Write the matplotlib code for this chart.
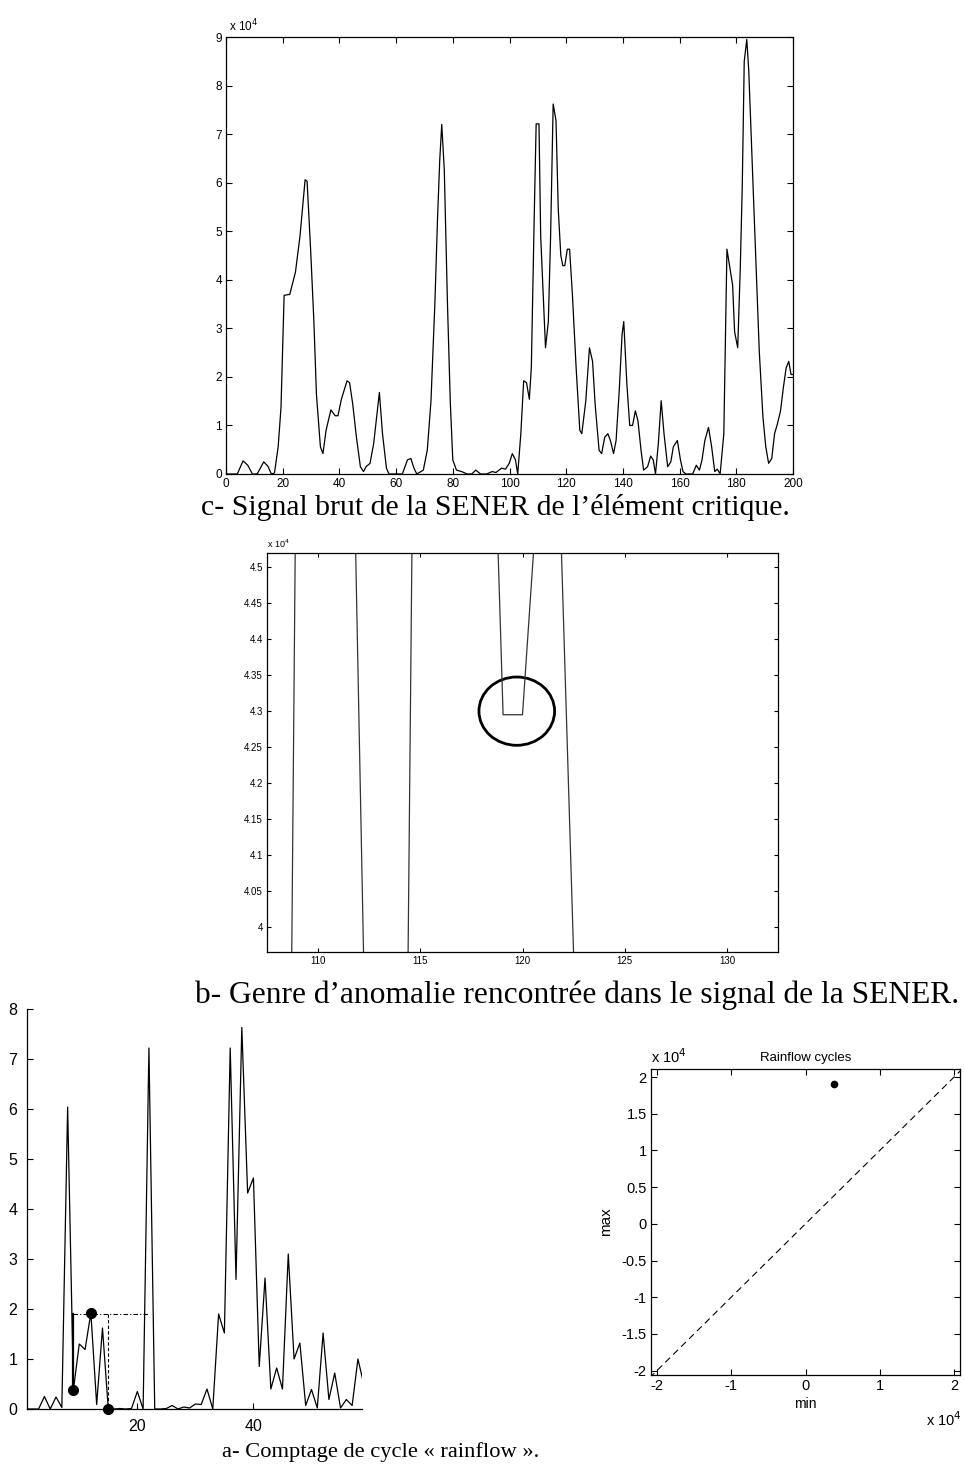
import matplotlib
matplotlib.use('Agg')
import matplotlib.pyplot as plt
from matplotlib.patches import Ellipse

# ---------------- data ----------------
# c- raw SENER signal (values in units of 1e4)
x_c = [0, 4, 6, 7.7, 9.3, 11, 13.3, 14.8, 16, 17.1,
       18.4, 19.4, 20.5, 22.5, 24.5, 26.1, 27.9, 28.6, 29.9, 31,
       31.9, 33.3, 34.2, 35.3, 37, 38.5, 39.5, 40.7, 42.7, 43.6,
       44.7, 46, 47.4, 48.5, 49.4, 50.8, 52.1, 53.5, 54.1, 55.2,
       56.6, 57.5, 62.2, 64, 65.2, 66.3, 67.3, 69.6, 71, 72.3,
       73.7, 74.6, 75.4, 76.1, 77, 78.1, 79.1, 80, 81.3, 83.1,
       85.1, 86.7, 88.1, 89.8, 91.9, 93.9, 95.2, 97.2, 98.6, 99.9,
       101, 102.1, 102.9, 104, 105, 106, 107, 107.7, 108.7, 109.4,
       110.4, 111, 112, 112.7, 113.7, 114.5, 115.4, 116.4, 117.2, 118.1,
       118.8, 119.5, 120.4, 121.2, 122.2, 123.5, 124.8, 125.5, 126.9, 128.2,
       129.3, 130.2, 131.6, 132.5, 133.6, 134.7, 135.6, 136.7, 137.6, 138.7,
       139.7, 140.3, 141.4, 142.4, 143.4, 144.4, 145.3, 146.4, 147.3, 148.7,
       149.8, 150.7, 151.5, 152.5, 153.5, 154.5, 155.8, 156.9, 157.8, 159.2,
       160.3, 161.2, 162.2, 164.6, 165.9, 167, 167.9, 168.9, 170.2, 171.3,
       172.4, 173.3, 174.3, 175.6, 176.7, 177.8, 178.7, 179.4, 180.5, 181.4,
       182.1, 182.8, 183.7, 184.4, 185.5, 186.8, 188.1, 189.4, 190.4, 191.4,
       192.5, 193.5, 194.5, 195.6, 196.6, 197.6, 198.5, 199.3, 200]
y_c = [0, 0, 0.27, 0.18, 0, 0, 0.25, 0.16, 0, 0.02,
       0.56, 1.37, 3.68, 3.7, 4.16, 4.9, 6.06, 6.03, 4.56, 3.14,
       1.64, 0.56, 0.42, 0.9, 1.32, 1.2, 1.2, 1.54, 1.92, 1.88,
       1.44, 0.76, 0.15, 0.05, 0.15, 0.22, 0.63, 1.37, 1.68, 0.83,
       0.12, 0, 0, 0.29, 0.32, 0.12, 0, 0.08, 0.49, 1.5,
       3.55, 5.24, 6.47, 7.2, 6.26, 3.55, 1.5, 0.29, 0.08, 0.05,
       0, 0, 0.08, 0, 0, 0.05, 0.03, 0.12, 0.1, 0.22,
       0.42, 0.29, 0, 0.83, 1.92, 1.88, 1.54, 2.19, 5.24, 7.21,
       7.21, 4.9, 3.55, 2.6, 3.14, 4.9, 7.62, 7.28, 5.45, 4.5,
       4.29, 4.29, 4.63, 4.63, 3.68, 2.19, 0.9, 0.83, 1.5, 2.6,
       2.32, 1.44, 0.49, 0.42, 0.76, 0.83, 0.69, 0.42, 0.69, 1.71,
       2.87, 3.14, 1.85, 1.0, 1.0, 1.3, 1.1, 0.49, 0.08, 0.15,
       0.37, 0.29, 0, 0.63, 1.51, 0.83, 0.15, 0.25, 0.56, 0.69,
       0.29, 0.05, 0, 0, 0.18, 0.08, 0.29, 0.69, 0.96, 0.56,
       0.05, 0.1, 0, 0.83, 4.63, 4.23, 3.89, 2.93, 2.6, 4.23,
       5.92, 8.5, 8.95, 8.3, 6.6, 4.57, 2.53, 1.17, 0.56, 0.22,
       0.32, 0.83, 1.03, 1.3, 1.78, 2.19, 2.32, 2.05, 2.05]
xticks_c = [0, 20, 40, 60, 80, 100, 120, 140, 160, 180, 200]
yticks_c = [0, 1, 2, 3, 4, 5, 6, 7, 8, 9]

# b- zoom on the anomaly (units of 1e4)
x_b = [108.5, 109.78, 113.69, 115.59, 119.05, 120.0, 120.8, 121.79, 122.8]
y_b = [3.265, 7.5, 1.84, 7.5, 4.295, 4.295, 4.63, 4.63, 3.68]
circle_b = (119.72, 4.300)          # centre of the highlighted anomaly
circle_b_size = (3.7, 0.095)        # width, height in data units
xticks_b = [110, 115, 120, 125, 130]
yticks_b = [4.0, 4.05, 4.1, 4.15, 4.2, 4.25, 4.3, 4.35, 4.4, 4.45, 4.5]
ylabels_b = ['4', '4.05', '4.1', '4.15', '4.2', '4.25', '4.3', '4.35', '4.4', '4.45', '4.5']

# a- rainflow counting on turning points (units of 1e4)
x_a = list(range(1, 60))
y_a = [0, 0, 0, 0.25, 0, 0.24, 0.03, 6.04, 0.39, 1.3,
       1.19, 1.92, 0.09, 1.62, 0, 0, 0.01, 0, 0.01, 0.35,
       0, 7.22, 0, 0, 0.01, 0.07, 0, 0.04, 0.02, 0.1,
       0.09, 0.4, 0, 1.9, 1.52, 7.22, 2.59, 7.63, 4.32, 4.62,
       0.85, 2.62, 0.4, 0.82, 0.4, 3.1, 1.0, 1.32, 0.07, 0.39,
       0.02, 1.52, 0.19, 0.72, 0.02, 0.19, 0.07, 1.0, 0.5]
cycle_x = [9, 12, 15]
cycle_y = [0.39, 1.92, 0.0]
cycle_level = 1.9
cycle_span = [9, 22]
xticks_a = [20, 40]
yticks_a = [0, 1, 2, 3, 4, 5, 6, 7, 8]

# rainflow cycles (min, max) in units of 1e4
rf_min = [0.38]
rf_max = [1.9]
rf_diag = [-2.1, 2.1]
ticks_rf = [-2, -1.5, -1, -0.5, 0, 0.5, 1, 1.5, 2]
ticklabels_rf = ['-2', '-1.5', '-1', '-0.5', '0', '0.5', '1', '1.5', '2']
xticks_rf = [-2, -1, 0, 1, 2]
xticklabels_rf = ['-2', '-1', '0', '1', '2']

# ---------------- figure ----------------
W, H = 965, 1471
fig = plt.figure(figsize=(W / 100, H / 100), dpi=100)
SANS = ['Liberation Sans', 'DejaVu Sans']
SERIF = ['Liberation Serif', 'DejaVu Serif']
plt.rcParams['font.family'] = SANS
plt.rcParams['axes.unicode_minus'] = False


def add_ax(l, t, r, b):
    return fig.add_axes([l / W, 1 - b / H, (r - l) / W, (b - t) / H])


def matlab_style(ax, size, top_right=True):
    ax.tick_params(direction='in', length=4, width=0.8, labelsize=size,
                   top=top_right, right=top_right, pad=3)
    for s in ax.spines.values():
        s.set_linewidth(0.9)


# ---- panel c ----
ax_c = add_ax(226, 37, 793, 474)
ax_c.plot(x_c, y_c, color='black', lw=0.9)
ax_c.set_xlim(0, 200)
ax_c.set_ylim(0, 9)
ax_c.set_xticks(xticks_c)
ax_c.set_yticks(yticks_c)
matlab_style(ax_c, 8.5)
ax_c.text(0.005, 1.006, r'x 10$^4$', transform=ax_c.transAxes, fontsize=8.5,
          ha='left', va='bottom')
fig.text(201 / W, 1 - 508 / H, 'c- Signal brut de la SENER de l’élément critique.',
         family=SERIF, fontsize=21.4, ha='left', va='center')

# ---- panel b ----
ax_b = add_ax(267, 553, 778, 952)
ax_b.plot(x_b, y_b, color='#333333', lw=0.9)
ax_b.add_patch(Ellipse(circle_b, circle_b_size[0], circle_b_size[1],
                       fill=False, edgecolor='black', lw=2.0))
ax_b.set_xlim(107.5, 132.5)
ax_b.set_ylim(3.965, 4.52)
ax_b.set_xticks(xticks_b)
ax_b.set_yticks(yticks_b)
ax_b.set_yticklabels(ylabels_b)
matlab_style(ax_b, 7)
ax_b.tick_params(length=3)
ax_b.text(0.0, 1.008, r'x 10$^4$', transform=ax_b.transAxes, fontsize=6.5,
          ha='left', va='bottom')
fig.text(195 / W, 1 - 995 / H, 'b- Genre d’anomalie rencontrée dans le signal de la SENER.',
         family=SERIF, fontsize=22.7, ha='left', va='center')

# ---- panel a (left) ----
ax_a = add_ax(27, 1009, 362, 1409)
ax_a.plot(x_a, y_a, color='black', lw=0.9)
ax_a.plot([cycle_x[0], cycle_x[0]], [cycle_y[0], cycle_level], color='black', lw=1.6)
ax_a.plot(cycle_span, [cycle_level, cycle_level], color='black', lw=0.8, ls=(0, (4, 2, 1, 2)))
ax_a.plot([cycle_x[2], cycle_x[2]], [cycle_level, cycle_y[2]], color='black', lw=0.8, ls=(0, (3, 2)))
ax_a.plot(cycle_x, cycle_y, 'o', color='black', ms=7, clip_on=False)
ax_a.set_xlim(1, 58.7)
ax_a.set_ylim(0, 8)
ax_a.set_xticks(xticks_a)
ax_a.set_yticks(yticks_a)
ax_a.spines['top'].set_visible(False)
ax_a.spines['right'].set_visible(False)
matlab_style(ax_a, 11.5, top_right=False)
ax_a.tick_params(pad=7)

# ---- rainflow cycles (right) ----
ax_r = add_ax(651, 1069, 960, 1375)
ax_r.plot(rf_diag, rf_diag, color='black', lw=0.8, ls=(0, (6, 4)))
ax_r.plot(rf_min, rf_max, 'o', color='black', ms=4.5)
ax_r.set_xlim(-2.08, 2.08)
ax_r.set_ylim(-2.06, 2.11)
ax_r.set_xticks(xticks_rf)
ax_r.set_xticklabels(xticklabels_rf)
ax_r.set_yticks(ticks_rf)
ax_r.set_yticklabels(ticklabels_rf)
matlab_style(ax_r, 10.5)
ax_r.set_title('Rainflow cycles', fontsize=9.5, pad=6)
ax_r.set_xlabel('min', fontsize=10, labelpad=3)
ax_r.set_ylabel('max', fontsize=11, labelpad=6)
ax_r.text(0.0, 1.01, r'x 10$^4$', transform=ax_r.transAxes, fontsize=10.5,
          ha='left', va='bottom')
fig.text(962 / W, 1 - 1410 / H, r'x 10$^4$', fontsize=10.5, ha='right', va='top')

fig.text(222 / W, 1 - 1452 / H, 'a- Comptage de cycle « rainflow ».',
         family=SERIF, fontsize=16.2, ha='left', va='center')

fig.savefig('out.png', dpi=100)
